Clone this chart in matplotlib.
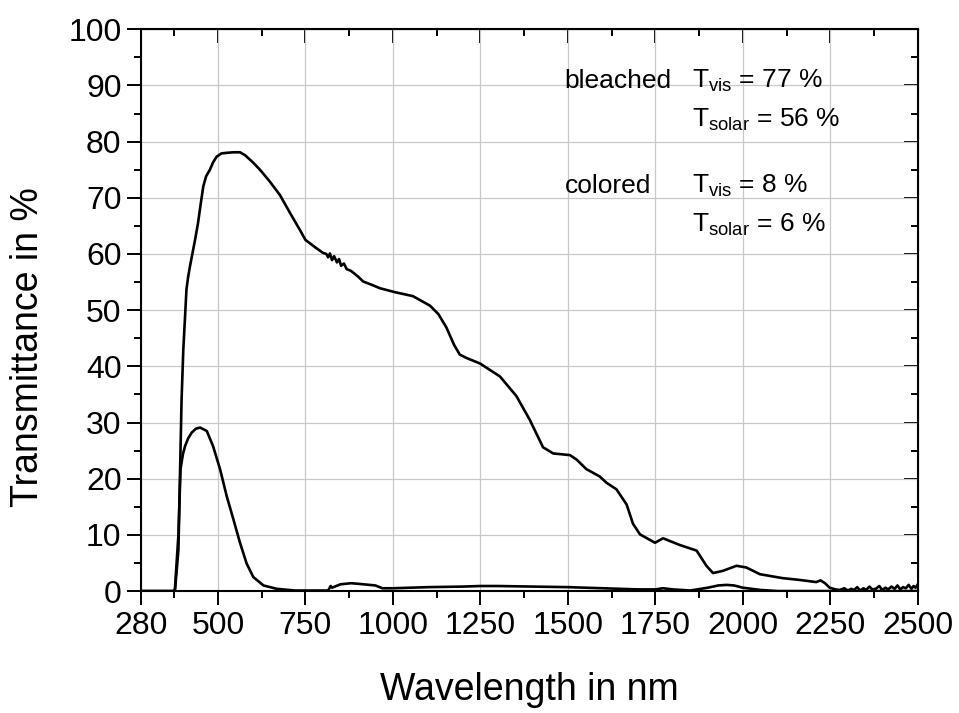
import matplotlib
matplotlib.use("Agg")
import matplotlib.pyplot as plt
import numpy as np

plt.rcParams['font.family'] = ['Liberation Sans', 'DejaVu Sans']
plt.rcParams['mathtext.fontset'] = 'custom'
plt.rcParams['mathtext.rm'] = 'Liberation Sans'
plt.rcParams['mathtext.it'] = 'Liberation Sans'

# bleached state spectrum
bleached_nm = [280, 340, 370, 377, 387, 391, 396, 401, 406, 410, 415, 420, 429, 436, 443,
               450, 458, 466, 477, 486, 496, 510, 525, 545, 563, 577, 600, 620, 648, 677,
               706, 734, 750, 782, 800, 810, 815, 820, 826, 832, 840, 846, 852, 860, 868,
               880, 900, 915, 940, 963, 1006, 1057, 1106, 1130, 1153, 1175, 1191, 1210,
               1249, 1306, 1353, 1391, 1429, 1458, 1506, 1525, 1553, 1591, 1610, 1639,
               1668, 1686, 1706, 1749, 1772, 1820, 1868, 1896, 1915, 1943, 1982, 2010,
               2049, 2114, 2160, 2210, 2222, 2235, 2248, 2265, 2277, 2290, 2300, 2310,
               2318, 2327, 2335, 2345, 2352, 2362, 2370, 2380, 2390, 2398, 2408, 2415,
               2425, 2434, 2442, 2450, 2458, 2466, 2474, 2482, 2488, 2494, 2500]
bleached_T = [0, 0, 0, 0, 7.3, 19.2, 34, 43, 48.9, 53.7, 56.0, 57.8, 60.7, 63.0, 65.5,
              68.6, 72.0, 73.8, 75.0, 76.3, 77.3, 77.9, 78.0, 78.1, 78.1, 77.6, 76.3, 75.0, 72.9, 70.5,
              67.3, 64.3, 62.5, 61.0, 60.2, 60.0, 59.4, 60.1, 58.9, 59.6, 58.5, 59.1, 57.9, 58.3, 57.3,
              57.0, 56.0, 55.1, 54.5, 53.9, 53.2, 52.5, 50.8, 49.3, 46.9, 43.8, 42.1, 41.5,
              40.5, 38.2, 34.7, 30.5, 25.6, 24.5, 24.2, 23.4, 21.7, 20.4, 19.3, 18.1,
              15.4, 12.0, 10.1, 8.6, 9.4, 8.2, 7.2, 4.5, 3.2, 3.6, 4.5, 4.2,
              3.0, 2.3, 2.0, 1.6, 1.9, 1.4, 0.6, 0.3, 0.2, 0.5, 0.1, 0.4,
              0.2, 0.7, 0.1, 0.5, 0.2, 0.8, 0.3, 0.4, 0.9, 0.2, 0.6, 0.3,
              0.8, 0.4, 1.0, 0.3, 0.7, 0.5, 1.1, 0.4, 0.9, 0.6, 1.2]

# colored state spectrum
colored_nm = [280, 340, 372, 377, 387, 393, 400, 406, 415, 425, 437, 449, 468, 486,
              506, 525, 544, 563, 582, 601, 630, 668, 720, 815, 822, 826, 850, 880,
              900, 950, 970, 1000, 1100, 1200, 1250, 1300, 1400, 1500, 1600, 1700,
              1750, 1772, 1800, 1850, 1900, 1930, 1954, 1975, 2000, 2050, 2100, 2500]
colored_T = [0, 0, 0, 0.3, 10, 21.7, 24.4, 25.8, 27.2, 28.2, 28.9, 29.1, 28.5, 25.8,
             21.7, 16.9, 12.8, 8.6, 4.9, 2.5, 1.0, 0.4, 0.1, 0.1, 0.9, 0.6, 1.2, 1.4,
             1.3, 1.0, 0.5, 0.5, 0.7, 0.8, 0.9, 0.9, 0.8, 0.7, 0.5, 0.3,
             0.3, 0.5, 0.3, 0.1, 0.6, 1.0, 1.1, 1.0, 0.6, 0.2, 0.0, 0.0]

x_ticks = [280, 500, 750, 1000, 1250, 1500, 1750, 2000, 2250, 2500]
y_ticks = list(range(0, 101, 10))

fig = plt.figure(figsize=(9.59, 7.13), dpi=100)
ax = fig.add_axes([0.147, 0.171, 0.81, 0.788])

ax.plot(bleached_nm, bleached_T, color='black', lw=1.9)
ax.plot(colored_nm, colored_T, color='black', lw=1.9)

ax.set_xlim(280, 2500)
ax.set_ylim(0, 100)
ax.set_xticks(x_ticks)
ax.set_yticks(y_ticks)
ax.set_xticks(np.arange(375, 2500, 250), minor=True)
ax.set_yticks(np.arange(5, 100, 10), minor=True)
ax.grid(True, which='major', color='#c8c8c8', lw=0.9)
ax.set_axisbelow(True)

for s in ax.spines.values():
    s.set_linewidth(1.5)

ax.tick_params(which='both', direction='out', labelsize=23, width=1.4)
ax.tick_params(which='major', length=10, pad=4)
ax.tick_params(which='minor', length=5)

# mirrored ticks pointing inward on top and right
top = ax.secondary_xaxis('top')
top.set_xticks(x_ticks)
top.set_xticks(np.arange(375, 2500, 250), minor=True)
top.tick_params(which='both', direction='in', labeltop=False, width=1.4)
top.tick_params(which='major', length=10)
top.tick_params(which='minor', length=5)
right = ax.secondary_yaxis('right')
right.set_yticks(y_ticks)
right.set_yticks(np.arange(5, 100, 10), minor=True)
right.tick_params(which='both', direction='in', labelright=False, width=1.4)
right.tick_params(which='major', length=10)
right.tick_params(which='minor', length=5)

ax.set_xlabel('Wavelength in nm', fontsize=27, labelpad=23)
fig.text(28 / 959, 1 - 347 / 713, 'Transmittance in %', fontsize=27,
         rotation=90, ha='center', va='center')

fs = 19
ax.text(1491, 89.5, 'bleached', fontsize=fs, va='baseline')
ax.text(1855, 89.5, r'$\mathregular{T_{vis}}$ = 77 %', fontsize=fs, va='baseline')
ax.text(1855, 82.6, r'$\mathregular{T_{solar}}$ = 56 %', fontsize=fs, va='baseline')
ax.text(1491, 70.9, 'colored', fontsize=fs, va='baseline')
ax.text(1855, 70.9, r'$\mathregular{T_{vis}}$ = 8 %', fontsize=fs, va='baseline')
ax.text(1855, 63.9, r'$\mathregular{T_{solar}}$ = 6 %', fontsize=fs, va='baseline')

fig.savefig('out.png', dpi=100)
